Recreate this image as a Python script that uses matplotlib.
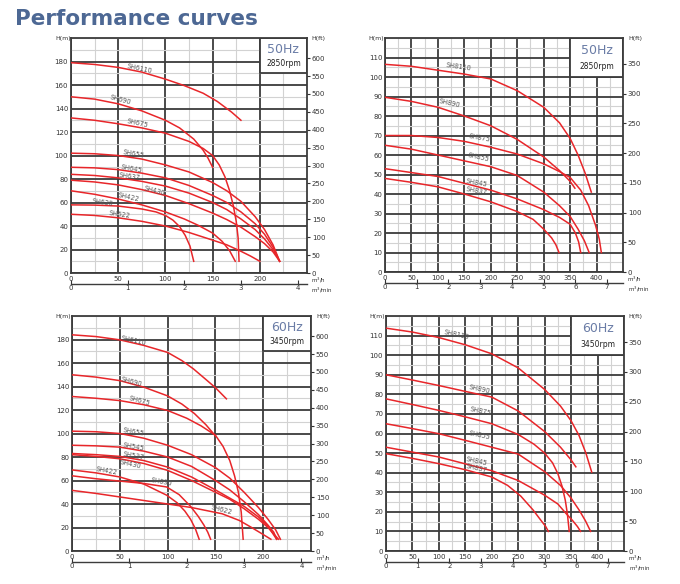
import numpy as np
import matplotlib.pyplot as plt
from matplotlib.patches import Rectangle
from matplotlib.ticker import MultipleLocator

# ---- data: flow Q (m3/h) vs head H (m) ----
# 50Hz, SH4/SH6 series
models_50_a = ['SH6110', 'SH690', 'SH675', 'SH655', 'SH645', 'SH637', 'SH430', 'SH422', 'SH630', 'SH622']
q_50_a = [
    [0, 25, 50, 75, 100, 120, 140, 155, 170, 180],
    [0, 25, 50, 75, 100, 115, 130, 140, 145, 150],
    [0, 25, 50, 75, 100, 125, 140, 150, 157, 163, 168, 172, 175, 177, 178],
    [0, 25, 50, 75, 100, 125, 150, 165, 180, 195, 205, 214, 221],
    [0, 25, 50, 75, 100, 125, 150, 165, 180, 195, 205, 214, 221],
    [0, 25, 50, 75, 100, 125, 150, 165, 180, 195, 205, 214, 221],
    [0, 25, 50, 75, 100, 125, 150, 165, 180, 195, 205, 214, 221],
    [0, 25, 50, 75, 100, 120, 135, 150, 160, 168, 174],
    [0, 25, 50, 75, 90, 100, 108, 115, 121, 126, 130],
    [0, 25, 50, 75, 100, 125, 150, 165, 180, 190, 200],
]
h_50_a = [
    [179, 177.5, 175, 171, 165, 159.5, 153, 146, 137, 130],
    [150, 148, 144, 138, 130, 123.5, 114, 104.5, 98, 90],
    [132, 130, 127, 123.5, 119, 112, 106, 100, 92, 82, 70, 57, 44, 30, 10],
    [102, 101.5, 100, 97, 92, 86, 77, 70, 61, 48, 37, 24, 10],
    [90, 89.5, 88, 85, 81, 74.5, 66, 60, 52, 42, 33, 22, 10],
    [84, 83, 81, 78, 74, 68, 60, 54, 46, 37, 29, 20, 10],
    [79, 77.5, 75, 71, 66, 59, 51, 45.5, 39, 31, 25, 18, 10],
    [70, 67, 63, 58, 52, 46, 40.5, 34, 27, 19, 10],
    [58, 57.8, 57, 54.5, 52, 49, 45, 39.5, 32, 23, 10],
    [50, 49, 47, 44, 40, 34.5, 28, 24, 18.5, 14.5, 10],
]

# 50Hz, SH8 series
models_50_b = ['SH8110', 'SH890', 'SH875', 'SH855', 'SH845', 'SH837']
q_50_b = [
    [0, 50, 100, 150, 200, 250, 300, 330, 350, 365, 378, 390],
    [0, 50, 100, 150, 200, 250, 300, 330, 350, 359],
    [0, 50, 100, 150, 200, 250, 300, 330, 350, 370, 385, 398, 405, 409],
    [0, 50, 100, 150, 200, 250, 300, 330, 350, 365, 377, 386],
    [0, 50, 100, 150, 200, 250, 300, 330, 350, 360, 366, 370],
    [0, 50, 100, 150, 200, 250, 280, 300, 315, 323, 329],
]
h_50_b = [
    [106.5, 105.5, 103.5, 101.5, 99, 93, 84.5, 76.5, 68.5, 60, 51, 41],
    [89.6, 87.5, 84.5, 80, 75, 68, 59, 52, 46.5, 43],
    [70, 70, 69, 67, 64, 60.5, 55.5, 51.5, 48.5, 42, 34, 24, 17, 10],
    [65, 63, 60, 57, 54, 49.5, 41, 34, 28.5, 22, 16, 10],
    [53, 51, 49, 45.5, 42, 37.5, 32, 28, 24.5, 20, 15.5, 10],
    [48, 46, 43.7, 40, 36, 31, 27, 22, 17.5, 14, 10],
]

# 60Hz, SH4/SH5/SH6 series
models_60_a = ['SH6110', 'SH690', 'SH675', 'SH655', 'SH545', 'SH537', 'SH430', 'SH422', 'SH630', 'SH622']
q_60_a = [
    [0, 25, 50, 75, 100, 115, 127, 140, 150, 161.5],
    [0, 25, 50, 75, 100, 115, 128, 140, 150],
    [0, 25, 50, 75, 100, 120, 135, 150, 158, 165, 170, 174, 177, 179],
    [0, 25, 50, 75, 100, 125, 150, 165, 180, 195, 205, 213, 218],
    [0, 25, 50, 75, 100, 125, 150, 165, 180, 195, 205, 211, 214],
    [0, 25, 50, 75, 100, 125, 150, 165, 180, 195, 205, 214],
    [0, 25, 50, 75, 100, 125, 150, 165, 180, 195, 205, 216],
    [0, 25, 50, 75, 99, 110, 118, 124, 129, 133],
    [0, 25, 50, 75, 99, 112, 124, 132, 138, 142, 145],
    [0, 25, 50, 75, 100, 125, 157, 175, 187, 198, 208],
]
h_60_a = [
    [184, 182.5, 179.7, 175, 169, 162, 155, 146, 139, 129.5],
    [150, 148, 145, 139.5, 132, 125, 117, 107.5, 98],
    [131.5, 130, 128, 124.5, 119.6, 113, 106.5, 98.5, 89, 77, 64, 50, 33, 10],
    [102, 101.5, 100, 96, 90, 82, 71, 62, 50, 37, 27, 18, 10],
    [90, 89.5, 88.4, 85, 80, 72, 60, 52, 42, 31, 22, 16, 10],
    [83, 82, 80.5, 77, 71.4, 63, 52, 45, 38, 29, 21, 10],
    [82, 80.5, 78.5, 74.5, 68.6, 60, 50, 44, 36, 27, 20, 10],
    [69, 66.5, 63, 57, 47.5, 41, 34, 27, 19, 10],
    [64, 61.5, 59.5, 57.5, 54.5, 48, 38, 29.5, 22, 16, 10],
    [51.6, 49, 46, 43, 40, 37, 31.7, 26, 20.4, 15, 10],
]

# 60Hz, SH8 series
models_60_b = ['SH8110', 'SH890', 'SH875', 'SH855', 'SH845', 'SH837']
q_60_b = [
    [0, 50, 100, 150, 200, 250, 300, 330, 350, 365, 378, 389],
    [0, 50, 100, 150, 200, 250, 300, 330, 350, 359],
    [0, 50, 100, 150, 200, 250, 280, 300, 315, 325, 333, 339, 343, 346.5],
    [0, 50, 100, 150, 200, 250, 300, 330, 350, 365, 377, 387],
    [0, 50, 100, 150, 200, 250, 300, 325, 341, 353, 362, 368],
    [0, 50, 100, 150, 200, 230, 255, 278, 292, 302, 307],
]
h_60_b = [
    [113.8, 111.8, 109, 105.3, 100.7, 93.5, 82.5, 74, 66.5, 59, 50, 40.3],
    [90, 87.3, 84.5, 81.5, 78.6, 71.5, 61, 53, 46.5, 43],
    [77.7, 74.8, 71.8, 68.5, 65, 59.5, 54.5, 50, 45, 39.5, 33, 26, 19, 10],
    [65, 62.5, 59.9, 56.5, 53, 49.5, 40.5, 33.5, 27, 21, 15.5, 10],
    [53, 50.5, 48, 44.5, 41, 36, 28.5, 24, 19, 15.5, 12.5, 10],
    [49.7, 47.3, 44.6, 41.5, 37.8, 33.5, 28, 21, 16, 12.5, 10],
]

# label anchor (Q, H, rotation) for each curve name
labels_50_a = [(73, 174, -12), (53, 147, -15), (71, 127.5, -12), (66, 101.5, -10), (64, 89, -10),
               (62, 82.5, -8), (89, 70, -15), (61, 64.6, -12), (34, 60.4, -8), (52, 49.6, -8)]
labels_50_b = [(140, 105.3, -8), (123, 86.6, -12), (179, 69, -10), (178, 58.7, -12), (173, 45.7, -10), (173, 41.7, -10)]
labels_60_a = [(64, 179, -12), (62, 143.7, -15), (71, 128, -15), (64, 101, -10), (64, 89, -10),
               (64, 81, -10), (61, 74, -12), (36, 68, -10), (94, 58.7, -10), (157, 34.6, -15)]
labels_60_b = [(134, 110.4, -12), (177, 82.8, -12), (179, 71.3, -12), (178, 59, -12), (172, 45.7, -12), (172, 42, -12)]

RED = '#e8262a'
DARK = '#3c3c3c'
LIGHT = '#d2d2d2'
TXT = '#333333'


def draw_panel(rect, models, qs, hs, labels, xmax, ymax, xstep, ystep, mmax, ftmax, box, hz, rpm):
    ax = fig.add_axes(rect)
    ax.set_xlim(0, xmax)
    ax.set_ylim(0, ymax)
    ax.set_axisbelow(True)
    ax.set_xticks(np.arange(0, xmax, xstep))
    ax.set_yticks(np.arange(0, ymax, ystep))
    ax.xaxis.set_minor_locator(MultipleLocator(xstep / 2))
    ax.yaxis.set_minor_locator(MultipleLocator(ystep / 2))
    ax.grid(which='major', color=DARK, lw=1.3)
    ax.grid(which='minor', color=LIGHT, lw=0.8)
    ax.tick_params(which='both', length=0, labelsize=5, colors=TXT, pad=2)
    for s in ax.spines.values():
        s.set_color(DARK)
        s.set_linewidth(1.3)

    for name, q, h, (lx, ly, rot) in zip(models, qs, hs, labels):
        ax.plot(q, h, color=RED, lw=1.1, zorder=3, solid_joinstyle='round')
        ax.text(lx, ly, name, fontsize=4.8, color='#555555', rotation=rot,
                ha='center', va='center', zorder=4)

    # info box in the top right corner
    bx, by = box
    ax.add_patch(Rectangle((bx, by), xmax - bx, ymax - by, facecolor='white',
                           edgecolor=DARK, lw=1.3, zorder=2))
    cx = (bx + xmax) / 2
    ax.text(cx, by + (ymax - by) * 0.68, hz, fontsize=9, color='#6a7ca6', ha='center', va='center', zorder=4)
    ax.text(cx, by + (ymax - by) * 0.28, rpm, fontsize=5.5, color='#222222', ha='center', va='center', zorder=4)

    # right axis in feet
    ax2 = ax.twinx()
    ax2.set_ylim(0, ymax * 3.2808)
    ax2.set_yticks(np.arange(0, ftmax + 1, 50))
    ax2.tick_params(length=2.5, width=0.8, labelsize=5, colors=TXT, pad=1)
    for s in ax2.spines.values():
        s.set_visible(False)

    # second flow scale in m3/min
    sec = ax.secondary_xaxis(-0.047, functions=(lambda x: x / 60, lambda x: x * 60))
    sec.set_xticks(np.arange(0, mmax + 1))
    sec.tick_params(direction='in', length=3, width=0.8, labelsize=5, colors=TXT, pad=1)
    sec.spines['bottom'].set_color(DARK)
    sec.spines['bottom'].set_linewidth(1.0)

    ax.text(-0.035, 1.0, 'H(m)', transform=ax.transAxes, fontsize=4.5, color=TXT, ha='center', va='center')
    ax.text(1.05, 1.0, 'H(ft)', transform=ax.transAxes, fontsize=4.5, color=TXT, ha='center', va='center')
    ax.text(1.05, -0.032, 'm$^3$/h', transform=ax.transAxes, fontsize=4, color=TXT, ha='center', va='center')
    ax.text(1.065, -0.072, 'm$^3$/min', transform=ax.transAxes, fontsize=4, color=TXT, ha='center', va='center')
    return ax


fig = plt.figure(figsize=(6.8, 5.84), dpi=100)

fig.text(15 / 680, 1 - 19 / 584, 'Performance curves', fontsize=15.5, fontweight='heavy',
         color='#4d6894', ha='left', va='center')

draw_panel([0.1044, 0.5325, 0.3471, 0.4024], models_50_a, q_50_a, h_50_a, labels_50_a,
           250, 200, 50, 20, 4, 600, (200, 170), '50Hz', '2850rpm')
draw_panel([0.5662, 0.5342, 0.35, 0.4007], models_50_b, q_50_b, h_50_b, labels_50_b,
           450, 120, 50, 10, 7, 350, (350, 100), '50Hz', '2850rpm')
draw_panel([0.1059, 0.0565, 0.3515, 0.4024], models_60_a, q_60_a, h_60_a, labels_60_a,
           250, 200, 50, 20, 4, 600, (200, 170), '60Hz', '3450rpm')
draw_panel([0.5676, 0.0565, 0.35, 0.4024], models_60_b, q_60_b, h_60_b, labels_60_b,
           450, 120, 50, 10, 7, 350, (350, 100), '60Hz', '3450rpm')

fig.savefig('out.png', dpi=100)
